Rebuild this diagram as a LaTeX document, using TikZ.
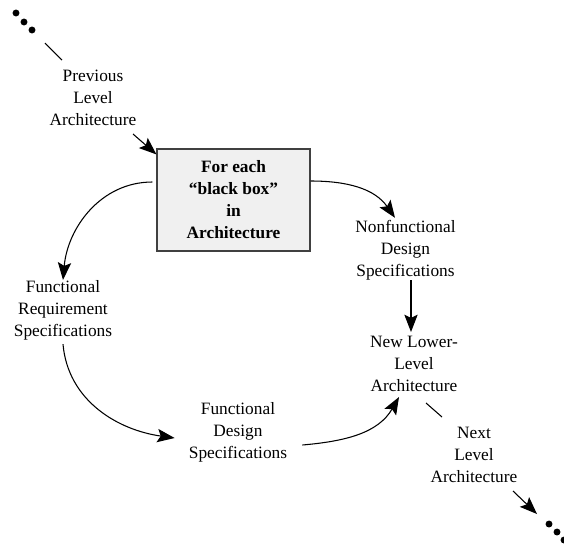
\documentclass[tikz,border=0pt]{standalone}
\usepackage{fontspec}
\setmainfont{Liberation Serif}
\usetikzlibrary{arrows.meta,calc}
\begin{document}
\begin{tikzpicture}[x=0.75pt,y=0.75pt,
  lbl/.style={align=center,font=\fontsize{13}{16.5}\selectfont,inner sep=0pt},
  conn/.style={line width=0.8pt},
  arr/.style={conn,-{Stealth[length=13pt,width=10pt,inset=2.5pt]}},
  blackbox/.style={draw=black!75,fill=black!6,line width=0.9pt,minimum width=114.75pt,minimum height=76.5pt,align=center,font=\bfseries\fontsize{13}{16.5}\selectfont}]
\useasboundingbox (0,0) rectangle (564,-544);

% nodes
\node[lbl] (prev) at (93,-98) {Previous\\Level\\Architecture};
\node[blackbox] (box) at (233.5,-200) {For each\\“black box”\\in\\Architecture};
\node[lbl] (fr) at (63,-310) {Functional\\Requirement\\Specifications};
\node[lbl] (fd) at (238,-432) {Functional\\Design\\Specifications};
\node[lbl] (nf) at (405.5,-250) {Nonfunctional\\Design\\Specifications};
\node[lbl] (nll) at (414,-364) {New Lower-\\Level\\Architecture};
\node[lbl] (next) at (474,-455) {Next\\Level\\Architecture};

% ellipsis dots
\fill (16,-13) circle (2.6pt);
\fill (24,-22) circle (2.6pt);
\fill (32,-30) circle (2.6pt);
\fill (549,-524) circle (2.6pt);
\fill (557,-532) circle (2.6pt);
\fill (564,-540) circle (2.6pt);

% free-ended connectors
\coordinate (a1) at (45,-43);
\coordinate (a2) at (62,-60);
\draw[conn] (a1) -- (a2);
\coordinate (p1) at (133,-134);
\draw[arr] (p1) -- ($(box.north west)+(0,-6)$);
\coordinate (b1) at (426,-403);
\coordinate (b2) at (442,-417);
\draw[conn] (b1) -- (b2);
\coordinate (c1) at (513,-491);
\coordinate (c2) at (537,-514);
\draw[arr] (c1) -- (c2);

% curved connectors
\draw[arr] ($(box.west)+(-4,18)$) to[out=180,in=85] (fr.north);
\draw[arr] ($(fr.south)+(0,-4)$) to[out=-85,in=172] ($(fd.west)+(-14,-6)$);
\draw[arr] ($(fd.east)+(15,-13)$) to[out=5,in=-120] ($(nll.south)+(-15,-5)$);
\draw[arr] ($(box.east)+(0,19)$) to[out=0,in=125] ($(nf.north)+(-10.5,2)$);
\coordinate (nfs) at ($(nf.south)+(5.5,0)$);
\draw[arr] (nfs) -- ($(nfs |- nll.north)+(0,4)$);
\end{tikzpicture}
\end{document}
